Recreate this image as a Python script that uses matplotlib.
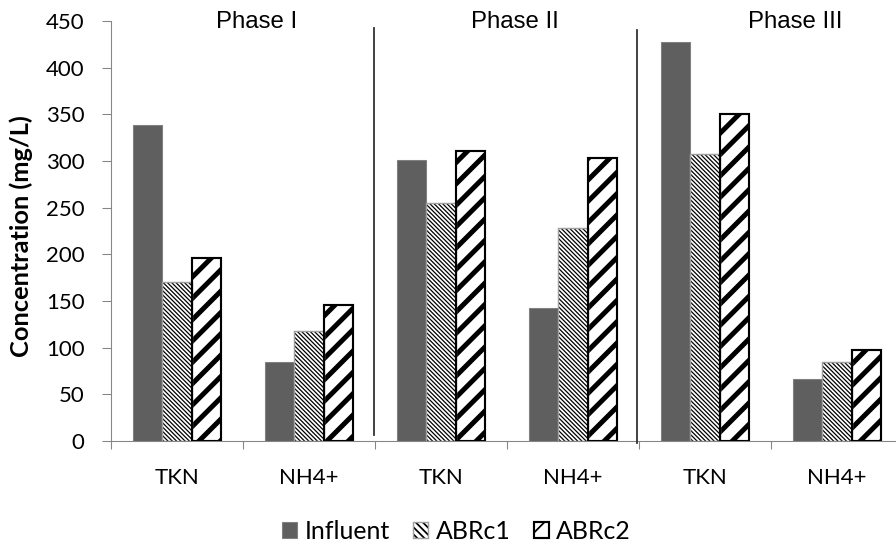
import matplotlib
matplotlib.use('Agg')
import matplotlib.pyplot as plt
import numpy as np
from matplotlib.patches import Patch
from matplotlib.legend_handler import HandlerTuple

categories = ['TKN', 'NH4+', 'TKN', 'NH4+', 'TKN', 'NH4+']
phases = ['Phase I', 'Phase II', 'Phase III']
series_names = ['Influent', 'ABRc1', 'ABRc2']
influent = [339, 85, 301, 142, 427, 66]
abrc1 = [170, 118, 255, 228, 307, 85]
abrc2 = [196, 146, 311, 303, 350, 98]
yticks = [0, 50, 100, 150, 200, 250, 300, 350, 400, 450]

plt.rcParams['font.family'] = ['Lato', 'DejaVu Sans']

fig = plt.figure(figsize=(7, 4.25), dpi=128)
ax = fig.add_axes([111 / 896, 103 / 544, 792 / 896, 420 / 544])

x = np.arange(len(categories))
w = 0.22
FS = 12.5

FINE = '\\' * 10
THICK = '//'
FINE_LW = 0.7
THICK_LW = 2.8


def hatched_bars(xs, vals, face, hatch, hatch_color, hatch_lw, edge, edge_lw):
    with plt.rc_context({'hatch.linewidth': hatch_lw}):
        b = ax.bar(xs, vals, w, color=face, edgecolor=hatch_color, linewidth=0,
                   hatch=hatch, zorder=2)
        for p in b:
            if hasattr(p, 'set_hatch_linewidth'):
                p.set_hatch_linewidth(hatch_lw)
    ax.bar(xs, vals, w, fill=False, edgecolor=edge, linewidth=edge_lw, zorder=3)


# Influent
ax.bar(x - w, influent, w, color='#5f5f5f', edgecolor='#808080', linewidth=0.6, zorder=2)
# ABRc1
hatched_bars(x, abrc1, 'white', FINE, 'black', FINE_LW, '#a0a0a0', 0.8)
# ABRc2
hatched_bars(x + w, abrc2, 'white', THICK, 'black', THICK_LW, 'black', 1.2)

ax.set_xlim(-0.5, 5.5)
ax.set_ylim(0, 450)
ax.set_yticks(yticks)
ax.set_xticks(x)
ax.set_xticklabels(categories)
ax.set_xticks(np.arange(-0.5, 6, 1), minor=True)
ax.tick_params(axis='x', which='major', length=0, pad=15, labelsize=FS)
ax.tick_params(axis='x', which='minor', length=4.5, color='#868686', width=0.6)
ax.tick_params(axis='y', length=5, color='#868686', width=0.6, pad=10, labelsize=FS)
for s in ['top', 'right']:
    ax.spines[s].set_visible(False)
for s in ['left', 'bottom']:
    ax.spines[s].set_color('#868686')
    ax.spines[s].set_linewidth(0.6)

ax.set_ylabel('Concentration (mg/L)', fontweight='bold', fontsize=14.3)
ax.yaxis.set_label_coords((33 - 111) / 792, 0.489)

# phase separators
trans = ax.get_xaxis_transform()
ax.plot([1.49, 1.49], [0.015, 0.983], color='#303030', lw=1.0, transform=trans,
        clip_on=False, zorder=4)
ax.plot([3.485, 3.485], [-0.005, 0.978], color='#303030', lw=1.0, transform=trans,
        clip_on=False, zorder=4)

# phase labels
for px, name in zip([0.606, 2.56, 4.68], phases):
    ax.text(px, 442.5, name, ha='center', va='baseline', fontsize=13.5,
            family=['Liberation Sans', 'DejaVu Sans'])

# legend
with plt.rc_context({'hatch.linewidth': FINE_LW}):
    h1 = Patch(facecolor='#5f5f5f', edgecolor='#808080', linewidth=0.6)
    h2a = Patch(facecolor='white', edgecolor='black', linewidth=0, hatch='\\' * 6)
h2b = Patch(fill=False, edgecolor='#a0a0a0', linewidth=0.8)
with plt.rc_context({'hatch.linewidth': THICK_LW}):
    h3a = Patch(facecolor='white', edgecolor='black', linewidth=0, hatch=THICK)
h3b = Patch(fill=False, edgecolor='black', linewidth=1.2)
for h, lw in [(h2a, FINE_LW), (h3a, THICK_LW)]:
    if hasattr(h, 'set_hatch_linewidth'):
        h.set_hatch_linewidth(lw)
fig.legend([h1, (h2a, h2b), (h3a, h3b)], series_names, loc='center',
           bbox_to_anchor=(456.5 / 896, 1 - 531.5 / 544), ncol=3, frameon=False,
           fontsize=14, handlelength=0.6, handleheight=0.6, handletextpad=0.3,
           columnspacing=0.95, handler_map={tuple: HandlerTuple(ndivide=1)})

fig.savefig('out.png', dpi=128)
